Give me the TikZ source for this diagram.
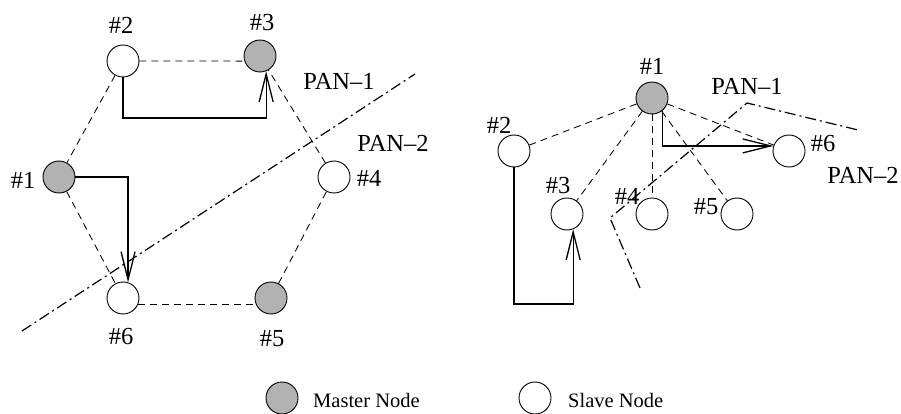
\documentclass[tikz,border=0pt]{standalone}
\usepackage{fontspec}
\setmainfont{Liberation Serif}
\usetikzlibrary{arrows.meta}
\definecolor{mastergray}{gray}{0.7}
\tikzset{
  pannode/.style={circle,draw,line width=0.9pt,minimum size=32pt,inner sep=0pt},
  master/.style={pannode,fill=mastergray},
  slave/.style={pannode,fill=white},
  lbl/.style={inner sep=0pt,font=\fontsize{24.5}{26}\selectfont},
  leg/.style={inner sep=0pt,anchor=west,font=\fontsize{20.5}{22}\selectfont},
  link/.style={line width=0.85pt,dash pattern=on 7pt off 5pt},
  panline/.style={line width=1.2pt,dash pattern=on 11pt off 4pt on 2pt off 4pt},
  route/.style={line width=1.3pt,-{Straight Barb[length=28pt,width=14pt,line width=1.3pt]}}
}
\begin{document}
\begin{tikzpicture}[x=1pt,y=-1pt]
\useasboundingbox (0,0) rectangle (901,414);
% left diagram
\node[master] (n1) at (59,177) {};
\node[slave]  (n2) at (123,61) {};
\node[master] (n3) at (260,56) {};
\node[slave]  (n4) at (334,177) {};
\node[master] (n5) at (271,298) {};
\node[slave]  (n6) at (123,298) {};
\draw[link] (n2.east) -- (n3.198);
\draw[link] (n2) -- (n1);
\draw[link] (n1) -- (n6);
\draw[link] (n6.-22) -- (n5.-158);
\draw[link] (n5) -- (n4);
\draw[link] (n4) -- (n3);
\node[lbl] (t1) at (23,180) {\#1};
\node[lbl] (t2) at (121,25) {\#2};
\node[lbl] (t3) at (262,23) {\#3};
\node[lbl] (t4) at (369,178) {\#4};
\node[lbl] (t5) at (272,339) {\#5};
\node[lbl] (t6) at (121,337) {\#6};
\node[lbl] (p1) at (339,81) {PAN–1};
\node[lbl] (p2) at (393,143) {PAN–2};
\coordinate (la) at (22,331);
\coordinate (lb) at (415,74);
\draw[panline] (la) -- (lb);
\draw[route] (n2.south) -- (n2.south |- 0,118) -| (n3.-68);
\draw[route] (n1.east) -| (n6.72);
% right diagram
\node[master] (r1) at (652,98) {};
\node[slave]  (r2) at (514,151) {};
\node[slave]  (r3) at (567,214) {};
\node[slave]  (r4) at (652,214) {};
\node[slave]  (r5) at (737,214) {};
\node[slave]  (r6) at (789,151) {};
\draw[link] (r1) -- (r2);
\draw[link] (r1) -- (r3);
\draw[link] (r1) -- (r4);
\draw[link] (r1) -- (r5);
\draw[link] (r1) -- (r6);
\node[lbl] (s1) at (652,66) {\#1};
\node[lbl] (s2) at (499,125) {\#2};
\node[lbl] (s3) at (558,186) {\#3};
\node[lbl] (s4) at (627,196) {\#4};
\node[lbl] (s5) at (706,207) {\#5};
\node[lbl] (s6) at (823,144) {\#6};
\node[lbl] (q1) at (747,86) {PAN–1};
\node[lbl] (q2) at (863,175) {PAN–2};
\coordinate (ra) at (640,288);
\coordinate (rb) at (610,218);
\coordinate (rc) at (747,103);
\coordinate (rd) at (858,130);
\draw[panline] (ra) -- (rb) -- (rc) -- (rd);
\draw[route] (r2.south) -- (r2.south |- 0,304) -| (r3.-68);
\draw[route] (r1.-51) |- (r6.162);
% legend
\node[master] (lm) at (282,398) {};
\node[leg] (lmt) at (313,400) {Master Node};
\node[slave] (ls) at (535,398) {};
\node[leg] (lst) at (568,400) {Slave Node};
\end{tikzpicture}
\end{document}
